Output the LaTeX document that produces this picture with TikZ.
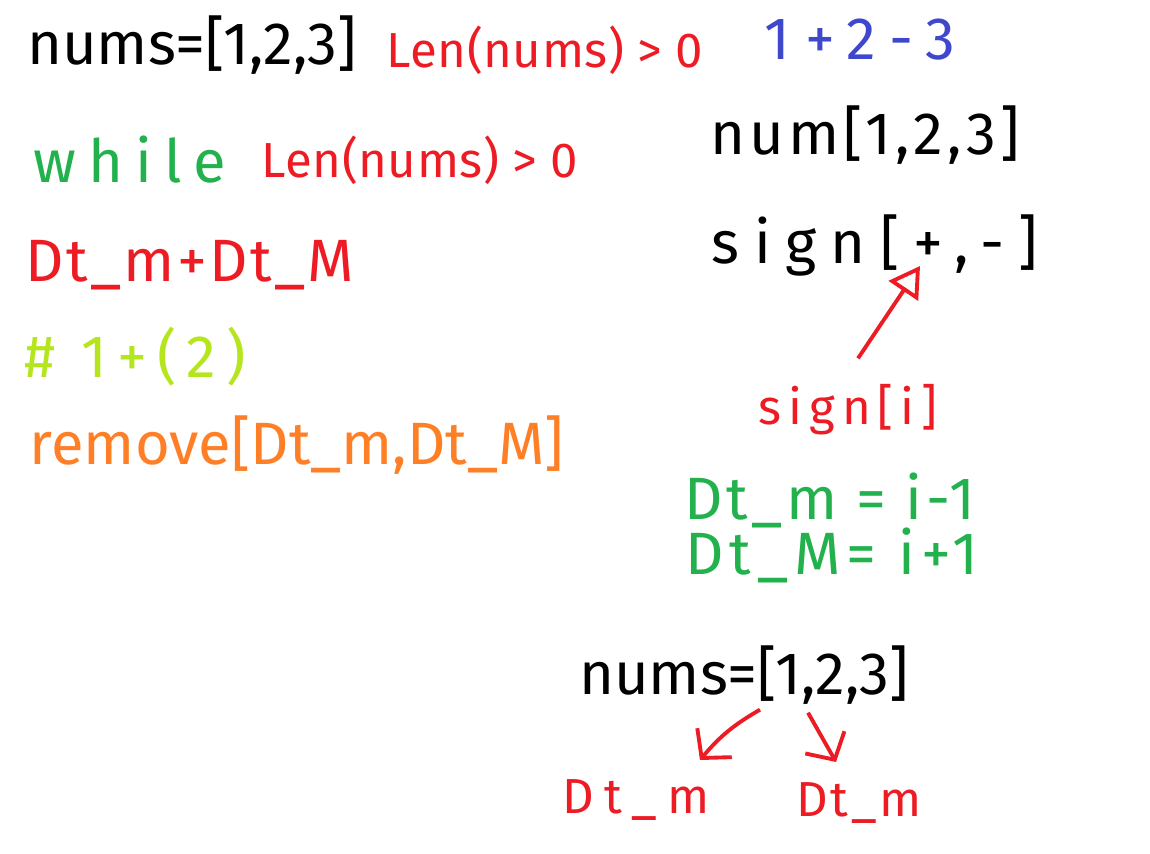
\documentclass[tikz,border=0pt]{standalone}
\usepackage{fontspec}
\setmainfont{Fira Sans}
\usepackage{xcolor}
\usetikzlibrary{arrows.meta,positioning}
\definecolor{ink}{HTML}{000000}
\definecolor{paintred}{HTML}{ED1C24}
\definecolor{paintgreen}{HTML}{22B14C}
\definecolor{paintblue}{HTML}{3F48CC}
\definecolor{paintlime}{HTML}{B5E61D}
\definecolor{paintorange}{HTML}{FF7F27}
\tikzset{
  scrawl/.style={font=\fontsize{34}{40}\selectfont\addfontfeature{LetterSpace=#1},inner sep=0pt},
  scrawl/.default=0,
  smallscrawl/.style={font=\fontsize{28}{34}\selectfont\addfontfeature{LetterSpace=#1},inner sep=0pt},
  smallscrawl/.default=0,
  pointer/.style={-{Triangle[open,length=6mm,width=7mm]},line width=2.2pt,color=paintred},
  splitarr/.style={-{Straight Barb[length=4mm,width=9mm]},line width=2.2pt,color=paintred}
}

\begin{document}
\begin{tikzpicture}[x=0.02cm,y=-0.02cm]
  \useasboundingbox[fill=white] (0,0) rectangle (1150,854);
  % left column: the loop
  \node[scrawl,ink] (numsTop) at (192,45) {nums=[1,2,3]};
  \node[smallscrawl=1,paintred] (lenTop) at (545,50) {Len(nums) > 0};
  \node[scrawl=25,paintblue] (exprTop) at (860,40) {1+2-3};
  \node[scrawl=20,paintgreen] (whileKw) at (130,160) {while};
  \node[smallscrawl=1,paintred] (lenLoop) at (420,160) {Len(nums) > 0};
  \node[scrawl=4,paintred] (sumLine) at (190,265) {Dt\_m+Dt\_M};
  \node[scrawl=17,paintlime] (noteLine) at (135,357) {\# 1+(2)};
  \node[scrawl,paintorange] (removeLine) at (297,445) {remove[Dt\_m,Dt\_M]};
  % right column: the signs
  \node[scrawl=7,ink] (numArr) at (865,135) {num[1,2,3]};
  \node[scrawl=24,ink] (signArr) at (875,245) {sign[+,-]};
  \node[smallscrawl=14,paintred] (signIdx) at (848,410) {sign[i]};
  \node[scrawl=6,paintgreen] (eqLow) at (830,500) {Dt\_m = i-1};
  \node[scrawl=10,paintgreen] (eqHigh) at (832,555) {Dt\_M= i+1};
  \coordinate (plusTip) at (920,266);
  \draw[pointer] (signIdx.north) ++(10,-26) coordinate (signFoot) (signFoot) -- (plusTip);
  % bottom: split into the neighbours
  \node[scrawl,ink] (numsLow) at (744,675) {nums=[1,2,3]};
  \node[smallscrawl=20,paintred] (leftDt) at (636,800) {Dt\_m};
  \node[smallscrawl=5,paintred] (rightDt) at (859,803) {Dt\_m};
  \draw[splitarr] (numsLow.south) ++(16,5) coordinate (splitL) (splitL) to[bend right=10] (700,760);
  \draw[splitarr] (numsLow.south) ++(64,8) coordinate (splitR) (splitR) -- (836,762);
\end{tikzpicture}
\end{document}
